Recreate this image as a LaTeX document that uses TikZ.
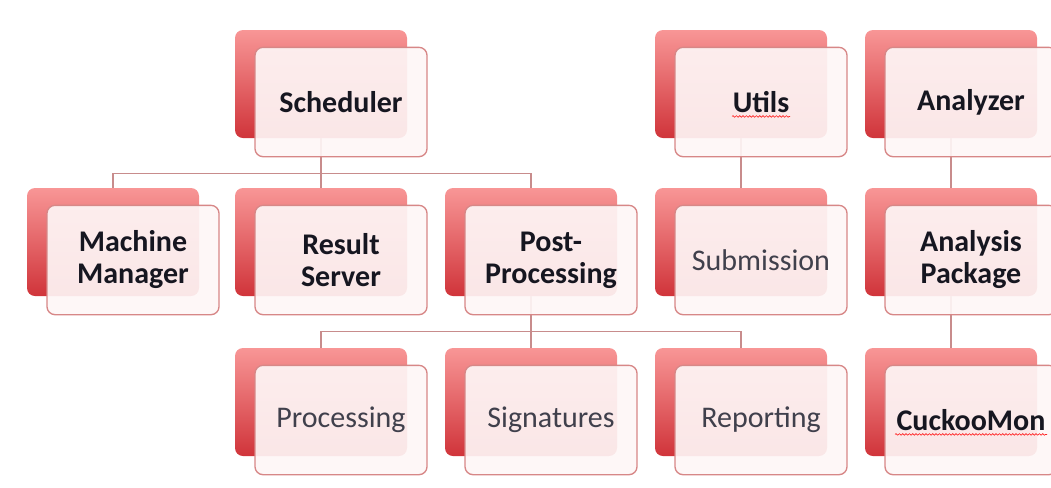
\documentclass[tikz,border=0pt]{standalone}
\usepackage{fontspec}
\setmainfont{Carlito}
\usetikzlibrary{calc, decorations.pathmorphing}

\definecolor{backtop}{RGB}{248,150,150}
\definecolor{backbot}{RGB}{208,52,58}
\definecolor{frontfill}{RGB}{254,246,246}
\definecolor{frontline}{RGB}{215,135,135}
\definecolor{linkcol}{RGB}{200,140,140}
\definecolor{titletext}{RGB}{22,22,32}
\definecolor{plaintext}{RGB}{64,64,76}

\begin{document}
\begin{tikzpicture}[x=0.75pt, y=-0.75pt,
    back/.style={rounded corners=6pt, inner sep=0pt, minimum width=129pt, minimum height=81pt,
        top color=backtop, bottom color=backbot},
    front/.style={rounded corners=6pt, draw=frontline, line width=1pt, fill=frontfill,
        fill opacity=0.92, text opacity=1, minimum width=129pt, minimum height=82pt,
        align=center, text=titletext, font=\fontsize{22.5}{24}\selectfont\bfseries},
    plain/.style={text=plaintext, font=\fontsize{22.5}{24}\selectfont},
    link/.style={draw=linkcol, line width=1.1pt},
    squiggle/.style={red!85!white, line width=0.5pt, decorate,
        decoration={snake, amplitude=0.6pt, segment length=2.5pt}}]
    \useasboundingbox (0,0) rectangle (1051,487);

    % back cards
    \node[back] (sched-b) at (321,84) {};
    \node[back] (util-b) at (741,84) {};
    \node[back] (ana-b) at (951,84) {};
    \node[back] (mm-b) at (113,242) {};
    \node[back] (rs-b) at (321,242) {};
    \node[back] (pp-b) at (531,242) {};
    \node[back] (sub-b) at (741,242) {};
    \node[back] (ap-b) at (951,242) {};
    \node[back] (proc-b) at (321,402) {};
    \node[back] (sig-b) at (531,402) {};
    \node[back] (rep-b) at (741,402) {};
    \node[back] (cm-b) at (951,402) {};

    % links between levels
    \draw[link] (sched-b.south) -- ++(0,35) coordinate (sched-j) -| (mm-b.north);
    \draw[link] (sched-j) -| (rs-b.north);
    \draw[link] (sched-j) -| (pp-b.north);
    \draw[link] (util-b.south) -- (sub-b.north);
    \draw[link] (ana-b.south) -- (ap-b.north);
    \draw[link] (pp-b.south) -- ++(0,35) coordinate (pp-j) -| (proc-b.north);
    \draw[link] (pp-j) -| (sig-b.north);
    \draw[link] (pp-j) -| (rep-b.north);
    \draw[link] (ap-b.south) -- (cm-b.north);

    % front cards with the labels
    \node[front] (sched) at (341,102) {Scheduler};
    \node[front] (util) at (761,102) {Utils};
    \node[front] (ana) at (971,102) {Analyzer};
    \node[front] (mm) at (133,260) {Machine\\Manager};
    \node[front] (rs) at (341,260) {Result\\Server};
    \node[front] (pp) at (551,260) {Post-\\Processing};
    \node[front, plain] (sub) at (761,260) {Submission};
    \node[front] (ap) at (971,260) {Analysis\\Package};
    \node[front, plain] (proc) at (341,420) {Processing};
    \node[front, plain] (sig) at (551,420) {Signatures};
    \node[front, plain] (rep) at (761,420) {Reporting};
    \node[front] (cm) at (971,420) {CuckooMon};

    % spell-check marks
    \draw[squiggle] ($(util.base)+(-29,4)$) -- ($(util.base)+(29,4)$);
    \draw[squiggle] ($(cm.base)+(-76,4)$) -- ($(cm.base)+(76,4)$);
\end{tikzpicture}
\end{document}
